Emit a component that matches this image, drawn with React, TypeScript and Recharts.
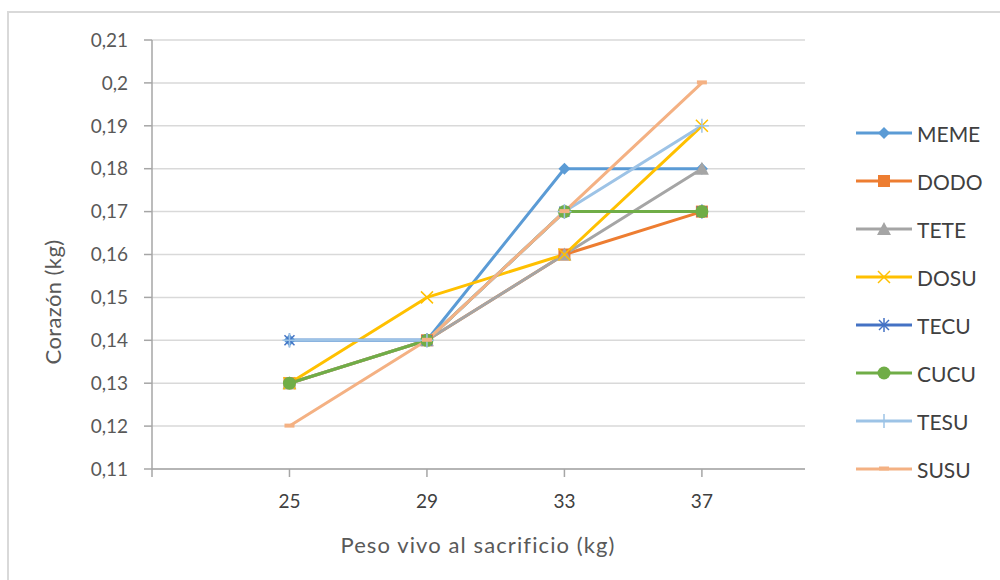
import { LineChart, Line, XAxis, YAxis, CartesianGrid } from 'recharts'

// Peso vivo al sacrificio (kg)
const pesos = [25, 29, 33, 37]

// Corazón (kg) por grupo
const meme = [0.14, 0.14, 0.18, 0.18]
const dodo = [0.13, 0.14, 0.16, 0.17]
const tete = [0.13, 0.14, 0.16, 0.18]
const dosu = [0.13, 0.15, 0.16, 0.19]
const tecu = [0.14, 0.14, 0.17, 0.17]
const cucu = [0.13, 0.14, 0.17, 0.17]
const tesu = [0.14, 0.14, 0.17, 0.19]
const susu = [0.12, 0.14, 0.17, 0.2]

const yTicks = [0.11, 0.12, 0.13, 0.14, 0.15, 0.16, 0.17, 0.18, 0.19, 0.2, 0.21]
const xTicks = [21, 25, 29, 33, 37]

type Shape = 'diamond' | 'square' | 'triangle' | 'x' | 'star' | 'circle' | 'plus' | 'dash'

const SERIES: { key: string; values: number[]; color: string; shape: Shape }[] = [
  { key: 'MEME', values: meme, color: '#5B9BD5', shape: 'diamond' },
  { key: 'DODO', values: dodo, color: '#ED7D31', shape: 'square' },
  { key: 'TETE', values: tete, color: '#A5A5A5', shape: 'triangle' },
  { key: 'DOSU', values: dosu, color: '#FFC000', shape: 'x' },
  { key: 'TECU', values: tecu, color: '#4472C4', shape: 'star' },
  { key: 'CUCU', values: cucu, color: '#70AD47', shape: 'circle' },
  { key: 'TESU', values: tesu, color: '#9DC3E6', shape: 'plus' },
  { key: 'SUSU', values: susu, color: '#F4B183', shape: 'dash' },
]

const data = pesos.map((peso, i) => {
  const row: Record<string, number> = { peso }
  SERIES.forEach((s) => {
    row[s.key] = s.values[i]
  })
  return row
})

const FONT = 'Lato, "Open Sans", sans-serif'
const TEXT = '#595959'

function Marker({ shape, color, cx, cy }: { shape: Shape; color: string; cx: number; cy: number }) {
  switch (shape) {
    case 'diamond':
      return <polygon points={`${cx},${cy - 6} ${cx + 6},${cy} ${cx},${cy + 6} ${cx - 6},${cy}`} fill={color} />
    case 'square':
      return <rect x={cx - 6} y={cy - 6} width={12} height={12} fill={color} />
    case 'triangle':
      return <polygon points={`${cx},${cy - 7} ${cx + 7},${cy + 6} ${cx - 7},${cy + 6}`} fill={color} />
    case 'x':
      return (
        <g stroke={color} strokeWidth={1.5}>
          <line x1={cx - 6} y1={cy - 6} x2={cx + 6} y2={cy + 6} />
          <line x1={cx - 6} y1={cy + 6} x2={cx + 6} y2={cy - 6} />
        </g>
      )
    case 'star':
      return (
        <g stroke={color} strokeWidth={1.5}>
          <line x1={cx - 5} y1={cy - 5} x2={cx + 5} y2={cy + 5} />
          <line x1={cx - 5} y1={cy + 5} x2={cx + 5} y2={cy - 5} />
          <line x1={cx} y1={cy - 7} x2={cx} y2={cy + 7} />
        </g>
      )
    case 'circle':
      return <circle cx={cx} cy={cy} r={6.5} fill={color} />
    case 'plus':
      return (
        <g stroke={color} strokeWidth={1.5}>
          <line x1={cx - 7} y1={cy} x2={cx + 7} y2={cy} />
          <line x1={cx} y1={cy - 7} x2={cx} y2={cy + 7} />
        </g>
      )
    case 'dash':
      return <rect x={cx - 5} y={cy - 2.5} width={10} height={4} fill={color} />
  }
}

const fmt = (v: number) => String(Number(v.toFixed(2))).replace('.', ',')

function ChartLegend() {
  return (
    <div style={{ position: 'absolute', left: 856, top: 109, fontFamily: FONT, fontSize: 21, color: '#404040' }}>
      {SERIES.map((s) => (
        <div key={s.key} style={{ height: 48, display: 'flex', alignItems: 'center' }}>
          <svg width={56} height={20} style={{ marginRight: 5 }}>
            <line x1={0} y1={10} x2={56} y2={10} stroke={s.color} strokeWidth={3} />
            <Marker shape={s.shape} color={s.color} cx={28} cy={10} />
          </svg>
          <span>{s.key}</span>
        </div>
      ))}
    </div>
  )
}

export default function App() {
  return (
    <div style={{ position: 'absolute', left: 0, top: 0, width: 1000, height: 580, overflow: 'hidden', background: '#fff' }}>
      <div style={{ position: 'absolute', left: 7, top: 11, width: 1100, height: 700, border: '2px solid #D9D9D9' }} />
      <div style={{ position: 'absolute', left: 0, top: 0 }}>
        <LineChart width={1000} height={580} data={data} margin={{ top: 40, right: 195, bottom: 31, left: 0 }}>
          <CartesianGrid vertical={false} stroke="#D9D9D9" strokeWidth={1.5} />
          <XAxis
            dataKey="peso"
            type="number"
            domain={[21, 40]}
            ticks={xTicks}
            tickFormatter={(v: number) => (v === 21 ? '' : String(v))}
            height={80}
            stroke="#A6A6A6"
            strokeWidth={1.5}
            tickSize={8}
            tickMargin={18}
            tick={{ fill: '#404040', fontFamily: FONT, fontSize: 19 }}
            label={() => (
              <text
                x={478}
                y={553}
                textAnchor="middle"
                fill={TEXT}
                fontFamily={FONT}
                fontSize={22}
                letterSpacing={1.1}
              >
                Peso vivo al sacrificio (kg)
              </text>
            )}
          />
          <YAxis
            type="number"
            domain={[0.11, 0.21]}
            ticks={yTicks}
            tickFormatter={fmt}
            interval={0}
            width={152}
            stroke="#A6A6A6"
            strokeWidth={1.5}
            tickSize={8}
            tickMargin={16}
            tick={{ fill: TEXT, fontFamily: FONT, fontSize: 19 }}
            label={() => (
              <text
                x={52}
                y={302}
                transform="rotate(-90 52 302)"
                textAnchor="middle"
                dominantBaseline="central"
                fill={TEXT}
                fontFamily={FONT}
                fontSize={22}
                letterSpacing={0.4}
              >
                Corazón (kg)
              </text>
            )}
          />
          {SERIES.map((s) => (
            <Line
              key={s.key}
              dataKey={s.key}
              type="linear"
              stroke={s.color}
              strokeWidth={3}
              strokeLinejoin="round"
              isAnimationActive={false}
              dot={(p: any) => <Marker key={`${s.key}-${p.index}`} shape={s.shape} color={s.color} cx={p.cx} cy={p.cy} />}
              activeDot={false}
            />
          ))}
        </LineChart>
      </div>
      <ChartLegend />
    </div>
  )
}
